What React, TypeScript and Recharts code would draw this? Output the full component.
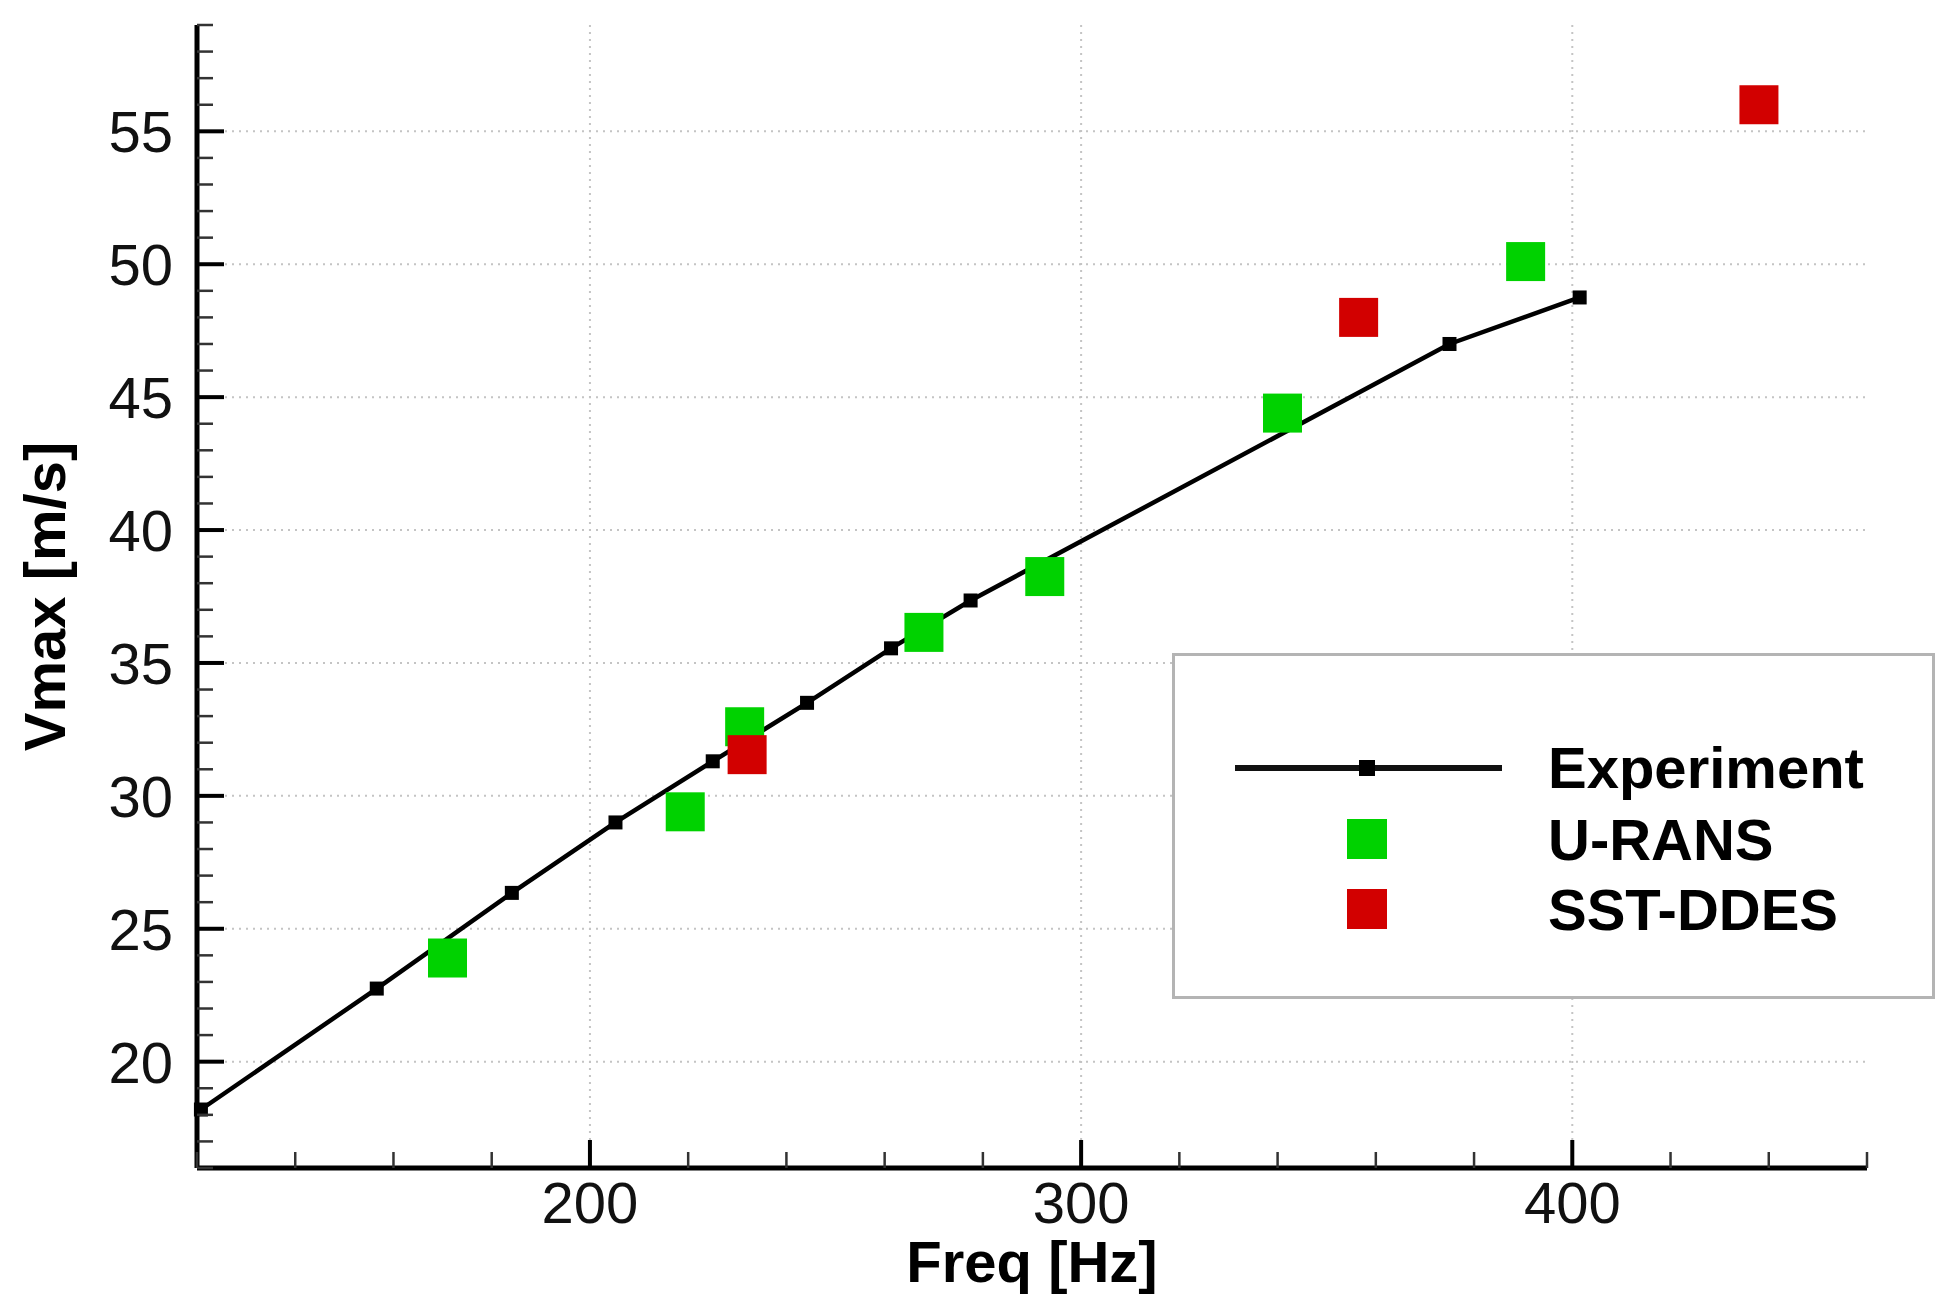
import React from 'react';
import {
    ComposedChart, Line, Scatter, XAxis, YAxis, CartesianGrid, Legend, Label
} from 'recharts';

// values
const expFreq = [120.8, 156.6, 184.1, 205.2, 225.0, 244.2, 261.3, 277.5, 375.0, 401.5];
const expVmax = [18.2, 22.75, 26.35, 29.0, 31.3, 33.5, 35.55, 37.35, 47.0, 48.75];

const uransFreq = [171.0, 219.4, 231.5, 268.0, 292.6, 341.0, 390.5];
const uransVmax = [23.9, 29.4, 32.6, 36.15, 38.25, 44.4, 50.1];

const ddesFreq = [232.0, 356.5, 438.0];
const ddesVmax = [31.55, 48.0, 56.0];

const xMajorTicks = [200, 300, 400];
const xAllTicks = [120, 140, 160, 180, 200, 220, 240, 260, 280, 300, 320, 340, 360, 380, 400, 420, 440, 460];
const yMajorTicks = [20, 25, 30, 35, 40, 45, 50, 55];
const yAllTicks = [
    16, 17, 18, 19, 20, 21, 22, 23, 24, 25, 26, 27, 28, 29, 30, 31, 32, 33, 34, 35, 36, 37,
    38, 39, 40, 41, 42, 43, 44, 45, 46, 47, 48, 49, 50, 51, 52, 53, 54, 55, 56, 57, 58, 59
];

const legendNames = ['Experiment', 'U-RANS', 'SST-DDES'];

const experiment = expFreq.map((f, i) => ({ f, v: expVmax[i] }));
const urans = uransFreq.map((f, i) => ({ f, v: uransVmax[i] }));
const ddes = ddesFreq.map((f, i) => ({ f, v: ddesVmax[i] }));

const FONT = '"Liberation Sans", Arial, Helvetica, sans-serif';
const GREEN = '#00d200';
const RED = '#d20000';
const SQ = 39;

const XTick = (props: any) => {
    const { x, y, payload } = props;
    const major = xMajorTicks.includes(payload.value);
    return (
        <g>
            <line
                x1={x} y1={y} x2={x} y2={y - (major ? 28 : 16)}
                stroke={major ? '#000' : '#333'}
                strokeWidth={major ? 4 : 2.5}
            />
            {major && (
                <text x={x} y={y + 55} textAnchor="middle" fontFamily={FONT} fontSize={58} fill="#111">
                    {payload.value}
                </text>
            )}
        </g>
    );
};

const YTick = (props: any) => {
    const { x, y, payload } = props;
    const major = yMajorTicks.includes(payload.value);
    return (
        <g>
            <line
                x1={x} y1={y} x2={x + (major ? 27 : 16)} y2={y}
                stroke={major ? '#000' : '#333'}
                strokeWidth={major ? 4 : 2.5}
            />
            {major && (
                <text x={x - 24} y={y + 21} textAnchor="end" fontFamily={FONT} fontSize={58} fill="#111">
                    {payload.value}
                </text>
            )}
        </g>
    );
};

const renderYLabel = (props: any) => {
    const vb = props.viewBox || { x: 0, y: 25, width: 197, height: 1143 };
    const cx = vb.x + 65;
    const cy = vb.y + vb.height / 2;
    return (
        <text
            x={cx} y={cy} transform={`rotate(-90, ${cx}, ${cy})`}
            textAnchor="middle" fontFamily={FONT} fontWeight="bold" fontSize={58} fill="#000"
        >
            Vmax [m/s]
        </text>
    );
};

const renderXLabel = (props: any) => {
    const vb = props.viewBox || { x: 197, y: 1168, width: 1670, height: 147 };
    return (
        <text
            x={vb.x + vb.width / 2} y={vb.y + 114}
            textAnchor="middle" fontFamily={FONT} fontWeight="bold" fontSize={58} fill="#000"
        >
            Freq [Hz]
        </text>
    );
};

const ExpDot = (props: any) => {
    const { cx, cy } = props;
    if (cx == null || cy == null) return null;
    return <rect x={cx - 7} y={cy - 7} width={14} height={14} fill="#000" />;
};

const square = (color: string) => (props: any) => (
    <rect x={props.cx - SQ / 2} y={props.cy - SQ / 2} width={SQ} height={SQ} fill={color} />
);

const LegendBox = () => {
    const textProps = { fontFamily: FONT, fontWeight: 'bold' as const, fontSize: 58, fill: '#000' };
    return (
        <svg width={763} height={346} style={{ display: 'block' }}>
            <rect x={1.5} y={1.5} width={760} height={343} fill="#fff" stroke="#b4b4b4" strokeWidth={3} />
            <line x1={63} y1={115} x2={330} y2={115} stroke="#111" strokeWidth={6} />
            <rect x={187} y={107} width={16} height={16} fill="#000" />
            <rect x={175} y={166} width={40} height={40} fill={GREEN} />
            <rect x={175} y={236} width={40} height={40} fill={RED} />
            <text x={376} y={135} {...textProps}>{legendNames[0]}</text>
            <text x={376} y={207} {...textProps}>{legendNames[1]}</text>
            <text x={376} y={277} {...textProps}>{legendNames[2]}</text>
        </svg>
    );
};

const App = () => {
    return (
        <div style={{ position: 'absolute', left: 0, top: 0, width: 1958, height: 1315, background: '#fff' }}>
            <ComposedChart
                width={1958}
                height={1315}
                margin={{ top: 25, right: 91, left: 0, bottom: 0 }}
            >
                <CartesianGrid
                    stroke="#c4c4c4"
                    strokeWidth={2}
                    strokeDasharray="2 5"
                    horizontalValues={yMajorTicks}
                    verticalValues={xMajorTicks}
                />
                <XAxis
                    type="number"
                    dataKey="f"
                    domain={[120, 460]}
                    ticks={xAllTicks}
                    interval={0}
                    height={147}
                    tickSize={0}
                    tickMargin={0}
                    tickLine={false}
                    tick={<XTick />}
                    axisLine={{ stroke: '#000', strokeWidth: 5 }}
                    label={<Label content={renderXLabel} />}
                />
                <YAxis
                    type="number"
                    domain={[16, 59]}
                    ticks={yAllTicks}
                    interval={0}
                    width={197}
                    tickSize={0}
                    tickMargin={0}
                    tickLine={false}
                    tick={<YTick />}
                    axisLine={{ stroke: '#000', strokeWidth: 5 }}
                    label={<Label content={renderYLabel} />}
                />
                <Line
                    data={experiment}
                    dataKey="v"
                    name={legendNames[0]}
                    type="linear"
                    stroke="#000"
                    strokeWidth={4.5}
                    dot={<ExpDot />}
                    activeDot={false}
                    isAnimationActive={false}
                />
                <Scatter
                    data={urans}
                    dataKey="v"
                    name={legendNames[1]}
                    fill={GREEN}
                    shape={square(GREEN)}
                    isAnimationActive={false}
                />
                <Scatter
                    data={ddes}
                    dataKey="v"
                    name={legendNames[2]}
                    fill={RED}
                    shape={square(RED)}
                    isAnimationActive={false}
                />
                <Legend
                    layout="vertical"
                    align="center"
                    verticalAlign="middle"
                    content={() => <LegendBox />}
                    wrapperStyle={{ left: 1172, top: 653, width: 763, height: 346 }}
                />
            </ComposedChart>
        </div>
    );
};

export default App;
